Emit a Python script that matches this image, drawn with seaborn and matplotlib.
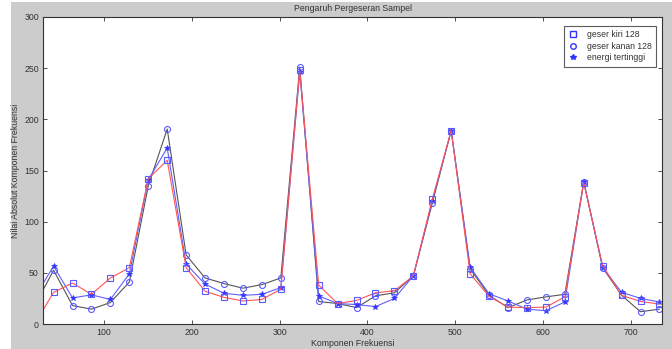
import numpy as np
import pandas as pd
import matplotlib
matplotlib.use("Agg")
import matplotlib.pyplot as plt
from matplotlib.lines import Line2D
from matplotlib.patches import Rectangle
import seaborn as sns

# frequency bins (44100 Hz / 2048 point FFT)
bin_index = list(range(1, 35))
freq_step = 44100 / 2048

geser_kiri = [0, 31, 40, 29, 45, 55, 142, 160, 55, 32, 26, 22.5, 24, 34, 248, 38, 20,
              23, 30.5, 32.5, 47, 122, 189, 49, 27, 16.5, 16, 16.5, 26.5, 138, 57, 28, 22, 19.5]
geser_kanan = [18, 52.5, 18, 14.5, 21, 41, 135, 190.5, 67.5, 45, 39.5, 35, 38.5, 45, 251, 22, 20,
               16, 27.5, 30.5, 47, 118, 189, 54, 28, 16, 23.5, 26.5, 29, 139, 55, 28, 12, 14.5]
energi = [26.5, 56.5, 25.5, 28.5, 24, 49, 141, 172, 58.5, 39, 30, 28, 29, 35.5, 246, 27.5, 20,
          19, 17, 25, 47, 120, 189, 55.5, 29.5, 22.5, 14.5, 13, 21.5, 139, 55, 31, 25, 21.5]

labels = ['geser kiri 128', 'geser kanan 128', 'energi tertinggi']

freq = np.array(bin_index) * freq_step
df = pd.DataFrame({'freq': freq, 'kiri': geser_kiri, 'kanan': geser_kanan, 'energi': energi})

sns.set_style('white')
plt.rcParams['font.family'] = ['Liberation Sans', 'DejaVu Sans']

fig = plt.figure(figsize=(6.72, 3.49), dpi=100, facecolor='white')
fig.patches.append(Rectangle((11 / 672, 0), 1, (349 - 2) / 349, transform=fig.transFigure,
                             facecolor='#cccccc', edgecolor='none', zorder=-10))
ax = fig.add_axes([43 / 672, 25 / 349, 619 / 672, 307 / 349])
ax.set_facecolor('white')

blue = '#3333ff'
mk_edge = '#5a5aff'
sns.lineplot(data=df, x='freq', y='kanan', ax=ax, color='#555555', lw=0.8,
             marker='o', markersize=4.3, markerfacecolor='none', markeredgecolor=mk_edge,
             markeredgewidth=0.8)
sns.lineplot(data=df, x='freq', y='energi', ax=ax, color='#6060ff', lw=0.8,
             marker='*', markersize=4, markerfacecolor=blue, markeredgecolor=blue,
             markeredgewidth=0.5)
sns.lineplot(data=df, x='freq', y='kiri', ax=ax, color='#ff5555', lw=0.8,
             marker='s', markersize=4.3, markerfacecolor='none', markeredgecolor=mk_edge,
             markeredgewidth=0.8)

ax.set_xlim(31, 735)
ax.set_ylim(0, 300)
ax.set_xticks([100, 200, 300, 400, 500, 600, 700])
ax.set_yticks([0, 50, 100, 150, 200, 250, 300])
ax.tick_params(direction='in', length=3, width=0.6, labelsize=6.3, colors='#333333',
               top=True, right=True, bottom=True, left=True, pad=3)
for s in ax.spines.values():
    s.set_color('#333333')
    s.set_linewidth(0.8)

ax.set_title('Pengaruh Pergeseran Sampel', fontsize=6.3, color='#333333', pad=4)
ax.set_xlabel('Komponen Frekuensi', fontsize=6.3, color='#333333', labelpad=1)
ax.set_ylabel('Nilai Absolut Komponen Frekuensi', fontsize=6.3, color='#333333')
ax.yaxis.set_label_coords(-0.037, 0.5)

handles = [
    Line2D([], [], ls='none', marker='s', markersize=4, markerfacecolor='none', markeredgecolor=blue),
    Line2D([], [], ls='none', marker='o', markersize=4, markerfacecolor='none', markeredgecolor=blue),
    Line2D([], [], ls='none', marker='*', markersize=4, color=blue),
]
leg = ax.legend(handles, labels, loc='upper right', fontsize=6.2, frameon=True, fancybox=False,
                borderpad=0.5, handlelength=1.2, handletextpad=1.0, labelspacing=0.3,
                bbox_to_anchor=(0.997, 0.985))
leg.get_frame().set_edgecolor('#333333')
leg.get_frame().set_linewidth(0.8)
for t in leg.get_texts():
    t.set_color('#333333')

fig.savefig('out.png', dpi=100, facecolor=fig.get_facecolor())
